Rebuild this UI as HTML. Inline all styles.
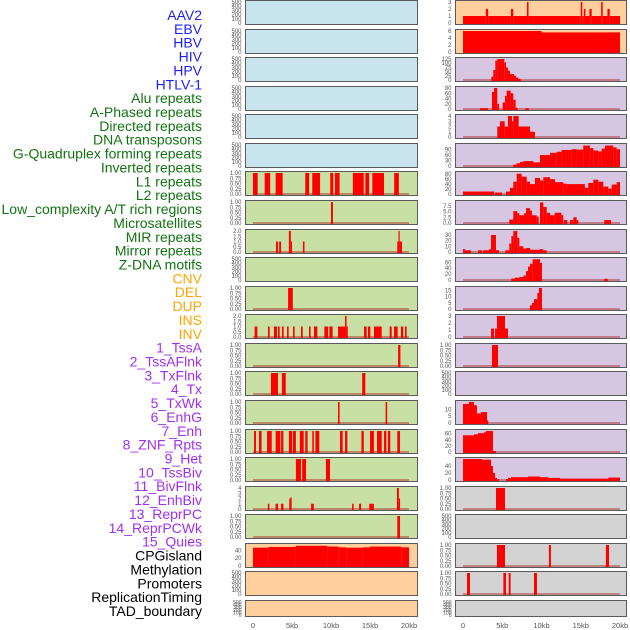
<!DOCTYPE html>
<html><head><meta charset="utf-8"><style>
html,body{margin:0;padding:0;background:#fff;width:630px;height:630px;overflow:hidden}
svg{display:block}
</style></head><body>
<svg id="chart" width="630" height="630" xmlns="http://www.w3.org/2000/svg"></svg>
<script>
// ---- data ----
const trackLabels = ["AAV2","EBV","HBV","HIV","HPV","HTLV-1","Alu repeats","A-Phased repeats","Directed repeats","DNA transposons","G-Quadruplex forming repeats","Inverted repeats","L1 repeats","L2 repeats","Low_complexity A/T rich regions","Microsatellites","MIR repeats","Mirror repeats","Z-DNA motifs","CNV","DEL","DUP","INS","INV","1_TssA","2_TssAFlnk","3_TxFlnk","4_Tx","5_TxWk","6_EnhG","7_Enh","8_ZNF_Rpts","9_Het","10_TssBiv","11_BivFlnk","12_EnhBiv","13_ReprPC","14_ReprPCWk","15_Quies","CPGisland","Methylation","Promoters","ReplicationTiming","TAD_boundary"];
const labelColors = ["#1f1ff5","#1f1ff5","#1f1ff5","#1f1ff5","#1f1ff5","#1f1ff5","#137313","#137313","#137313","#137313","#137313","#137313","#137313","#137313","#137313","#137313","#137313","#137313","#137313","#ffa500","#ffa500","#ffa500","#ffa500","#ffa500","#a030f0","#a030f0","#a030f0","#a030f0","#a030f0","#a030f0","#a030f0","#a030f0","#a030f0","#a030f0","#a030f0","#a030f0","#a030f0","#a030f0","#a030f0","#000","#000","#000","#000","#000"];
const xTicks = [0,5,10,15,20];
const xTickLabels = ["0","5kb","10kb","15kb","20kb"];
const emptyTicks = [0,100,200,300,400,500];
const unitTicks = [0,0.25,0.5,0.75,1];

// left column segments [startKb, endKb, value]
const L6 = [[0,0.6,1],[1.5,2.2,1],[2.9,3.8,1],[6.7,7.2,1],[7.6,8.6,1],[9.9,10.3,1],[10.5,11.1,1],[12.8,14.2,1],[14.4,14.9,1],[15.3,16.8,1],[18.1,18.7,1]];
const L7 = [[10.0,10.25,1]];
const L8 = [[2.95,3.2,1],[3.35,3.6,1],[4.6,4.85,2],[4.85,5.0,1],[6.4,6.6,1],[18.5,18.65,1],[18.65,18.8,2],[18.8,19.1,1]];
const L10 = [[4.5,5.1,1]];
const L11 = [[0.21,0.56,1],[1.92,2.14,1],[2.69,3.08,1],[3.21,3.42,1],[3.72,3.93,1],[4.36,4.57,1],[5.13,5.34,1],[6.15,6.37,1],[7.18,7.39,1],[7.82,8.25,1],[9.15,9.62,1],[9.79,10.21,1],[10.9,11.8,1],[11.8,12.0,2],[12.0,12.14,1],[14.23,14.57,1],[14.74,15.04,1],[15.51,16.5,1],[17.52,17.78,1],[18.08,18.55,1],[18.97,19.27,1],[19.49,19.7,1]];
const L12 = [[18.6,18.9,1]];
const L13 = [[2.3,3.2,1],[3.7,4.2,1],[14.0,14.4,1]];
const L14 = [[10.9,11.1,1],[17.0,17.2,1]];
const L15 = [[0.13,0.38,1],[0.77,1.1,1],[1.8,2.4,1],[2.9,3.5,1],[3.6,3.9,1],[4.6,5.0,1],[5.1,5.5,1],[6.0,6.5,1],[6.7,7.0,1],[7.6,7.8,1],[8.0,8.5,1],[11.15,11.5,1],[11.8,12.1,1],[13.9,14.2,1],[15.0,15.5,1],[15.9,16.5,1],[16.8,17.1,1],[17.3,17.6,1],[18.5,18.85,1]];
const L16 = [[5.5,6.15,1],[6.3,6.8,1],[9.35,9.87,1]];
const L17 = [[1.9,2.1,1],[2.9,3.2,1],[3.6,3.9,1],[4.65,4.8,2],[4.8,4.95,2.2],[7.45,7.8,1],[12.7,12.9,1],[13.6,13.85,1],[14.9,15.2,1],[15.2,15.5,1],[18.45,18.7,4],[18.7,18.85,2]];
const L18 = [[18.5,18.85,1]];
const L19 = [[0,2,47],[2,5.5,49],[5.5,9.5,52],[9.5,11,50],[11,12,48],[12,14,47],[14,15,48],[15,19,50],[19,20,48]];

// right column
const R0 = [[0,2.9,1],[2.9,3.2,2],[3.2,6.1,1],[6.1,6.4,2],[6.4,8.15,1],[8.15,8.35,3],[8.35,15.0,1],[15.0,15.2,3],[15.2,15.4,1],[15.4,15.6,2],[15.6,16.1,1],[16.1,16.4,2],[16.4,17.6,1],[17.6,17.8,3],[17.8,18.4,1],[18.4,18.7,2],[18.7,20,1]];
const R1 = [[0,10,6],[10,20,5.6]];
const R2 = [[3.61,3.86,20],[3.86,4.12,60],[4.12,4.37,115],[4.37,5.26,125],[5.26,5.48,105],[5.48,5.73,75],[5.73,5.99,55],[5.99,6.5,35],[6.5,6.75,25],[6.75,7.0,15],[7.0,7.26,8],[7.26,7.39,3]];
const R3 = [[2.17,3.18,3],[3.69,3.95,65],[3.95,4.37,80],[4.37,4.59,20],[5.05,5.35,25],[5.35,5.56,50],[5.56,6.07,70],[6.07,6.41,60],[6.41,6.71,35],[6.71,6.96,5],[7.94,8.37,3]];
const R4 = [[4.37,4.71,2],[4.71,5.31,3],[5.31,5.73,2],[5.73,6.24,4],[6.24,6.41,3],[6.41,7.09,4],[7.09,8.53,2],[8.53,9.17,1]];
const R5 = [[6.41,6.84,8],[6.84,7.26,15],[7.26,7.69,22],[7.69,8.96,27],[8.96,9.81,20],[9.81,11.08,60],[11.08,11.93,72],[11.93,12.56,78],[12.56,13.84,88],[13.84,14.47,92],[14.47,15.32,90],[15.32,16.17,112],[16.17,16.6,98],[16.6,17.23,85],[17.23,17.66,80],[17.66,18.09,95],[18.09,19.15,112],[19.15,19.57,102],[19.57,20,92]];
const R6 = [[0,3.95,10],[4.08,4.97,6],[5.48,5.99,10],[5.99,6.41,25],[6.41,6.84,50],[6.84,7.47,82],[7.47,8.11,70],[8.11,8.53,50],[8.53,9.17,40],[9.17,9.81,65],[9.81,10.23,55],[10.23,11.08,68],[11.08,11.72,60],[11.72,12.78,48],[12.78,13.2,42],[13.2,15.53,40],[15.53,15.96,25],[15.96,16.6,45],[16.6,17.23,58],[17.23,17.87,50],[17.87,18.51,30],[18.51,18.94,22],[18.94,19.57,38],[19.57,20,48]];
const R7 = [[5.9,6.41,1.5],[6.41,6.92,5.2],[6.92,7.18,4.3],[7.18,7.77,3.4],[7.77,8.03,4.3],[8.03,8.53,6.5],[8.53,8.79,5.4],[8.79,9.38,3.4],[9.38,9.64,2.8],[9.81,10.23,9],[10.23,10.66,7],[10.66,11.08,4.5],[11.08,11.68,3.4],[11.68,12.53,4.5],[12.53,12.78,3.4],[12.87,13.29,1.3],[13.63,14.05,1.3],[14.05,14.47,2.5],[14.47,14.69,1.3],[18.0,18.85,1.3]];
const R8 = [[0,0.25,5],[0.25,1.02,3],[1.91,2.42,3],[2.55,3.31,3],[3.31,3.57,5],[3.57,4.2,30],[4.2,4.59,3],[5.39,5.9,3],[5.9,6.16,15],[6.16,6.41,28],[6.41,6.92,37],[6.92,7.18,25],[7.18,7.69,10],[7.69,8.03,6],[8.03,8.53,7],[8.53,9.81,4],[9.81,10.23,5],[10.23,10.66,3]];
const R9 = [[6.16,6.62,5],[6.62,7.18,8],[7.18,7.69,10],[7.69,8.03,15],[8.03,8.28,30],[8.28,8.53,45],[8.53,8.87,55],[8.87,9.81,70],[9.81,10.06,58],[18.0,18.43,4]];
const R10 = [[8.53,8.79,3],[8.79,9.04,5],[9.04,9.47,8],[9.47,9.68,13],[9.68,10.06,17]];
const R11 = [[3.57,3.95,1.2],[4.08,4.33,1.2],[4.33,5.35,3],[5.35,5.73,1.2]];
const R12 = [[3.69,4.46,1]];
const R14 = [[0,0.76,14],[0.76,1.4,15.4],[1.4,1.78,13],[1.78,2.29,7],[2.29,3.06,8],[3.06,3.18,2]];
const R15 = [[0,1.4,55],[1.4,1.91,58],[1.91,2.68,62],[2.68,2.93,65],[2.93,3.82,69],[3.82,4.2,3]];
const R16 = [[0,2.42,60],[2.42,3.57,58],[3.57,3.82,40],[3.82,4.08,20],[4.08,4.33,6],[4.33,4.59,2],[5.48,5.73,3],[5.73,6.11,6],[6.11,8.28,8],[8.28,9.81,10],[9.81,10.87,8],[10.87,12.36,6],[12.36,18.51,4],[18.51,20,7]];
const R17 = [[4.2,5.35,1]];
const R19 = [[4.33,5.35,1],[10.94,11.2,1],[18.2,18.6,1]];
const R20 = [[0.51,0.89,1],[5.14,5.48,1],[5.82,6.07,1],[9.04,9.42,1]];

const BLUE="#c8e4ec", GREEN="#c8e0a4", ORANGE="#ffcf9e", PURPLE="#d6c6e2", GRAY="#d3d3d3";
// [segments, ticks, ymax, bg]
const leftPanels = [
 [null,emptyTicks,500,BLUE],[null,emptyTicks,500,BLUE],[null,emptyTicks,500,BLUE],[null,emptyTicks,500,BLUE],[null,emptyTicks,500,BLUE],[null,emptyTicks,500,BLUE],
 [L6,unitTicks,1,GREEN],[L7,unitTicks,1,GREEN],[L8,[0,0.5,1,1.5,2],2,GREEN],[null,emptyTicks,500,GREEN],[L10,unitTicks,1,GREEN],[L11,[0,0.5,1,1.5,2],2,GREEN],
 [L12,unitTicks,1,GREEN],[L13,unitTicks,1,GREEN],[L14,unitTicks,1,GREEN],[L15,unitTicks,1,GREEN],[L16,unitTicks,1,GREEN],[L17,[0,1,2,3,4],4,GREEN],[L18,unitTicks,1,GREEN],
 [L19,[0,20,40],54,ORANGE],[null,emptyTicks,500,ORANGE],[null,emptyTicks,500,ORANGE]
];
const rightPanels = [
 [R0,[0,1,2,3],3,ORANGE],[R1,[0,2,4,6],6,ORANGE],[R2,[0,25,50,75,100,125],125,PURPLE],[R3,[0,20,40,60,80],80,PURPLE],[R4,[0,1,2,3,4],4,PURPLE],
 [R5,[0,30,60,90],115,PURPLE],[R6,[0,20,40,60,80],85,PURPLE],[R7,[0,2.5,5,7.5],9.2,PURPLE],[R8,[0,10,20,30],37,PURPLE],[R9,[0,20,40,60],71,PURPLE],
 [R10,[0,5,10,15],17,PURPLE],[R11,[0,1,2,3],3,PURPLE],[R12,unitTicks,1,PURPLE],[null,emptyTicks,500,PURPLE],[R14,[0,5,10],15.4,PURPLE],
 [R15,[0,20,40,60],69,PURPLE],[R16,[0,20,40],60,PURPLE],[R17,unitTicks,1,GRAY],[null,emptyTicks,500,GRAY],[R19,unitTicks,1,GRAY],[R20,unitTicks,1,GRAY],[null,emptyTicks,500,GRAY]
];

// ---- drawing ----
const NS="http://www.w3.org/2000/svg";
const svg=document.getElementById('chart');
function mk(tag,attrs,parent){const e=document.createElementNS(NS,tag);for(const k in attrs)e.setAttribute(k,attrs[k]);(parent||svg).appendChild(e);return e;}

trackLabels.forEach((t,i)=>{
  const el=mk('text',{x:202,y:15+i*13.86+5,'text-anchor':'end','font-family':'Liberation Sans, sans-serif','font-size':14,fill:labelColors[i]});
  el.textContent=t;
  
  
});

function fmt(v,ticks){
  const hasFrac=ticks.some(x=>x%1!==0);
  if(ticks===unitTicks) return v.toFixed(2);
  if(hasFrac) return v.toFixed(1);
  return String(v);
}

function drawCol(panels,px0,pw,x0,kbScale,side){
  panels.forEach((p,i)=>{
    const [segs,ticks,ymax,bg]=p;
    const top=Math.round(i*28.57);
    const h=(i===21)?17:25;
    const g=mk('g',{});
    
    
    mk('rect',{x:px0,y:top+0.5,width:pw,height:h-1,fill:bg,stroke:'#5a5a5a','stroke-width':1},g);
    const yb=top+h-2, yt=top+2;
    const ys=v=>yb-(v/ymax)*(yb-yt);
    const xs=kb=>x0+kb*kbScale;
    if(segs){
      mk('line',{x1:xs(0),x2:xs(20),y1:yb,y2:yb,stroke:'rgba(170,30,30,0.45)','stroke-width':2},g);
      segs.forEach(s=>{
        const r=mk('rect',{x:xs(s[0]),y:ys(s[2]),width:Math.max(1.2,xs(s[1])-xs(s[0])),height:yb-ys(s[2])+1,fill:'#ff0000'},g);
        
        
      });
    }
    const fs=(i===21)?5:6;
    ticks.forEach(v=>{
      const t=mk('text',{x:px0-4,y:ys(v)+2,'text-anchor':'end','font-family':'Liberation Sans, sans-serif','font-size':fs,fill:'#555'},g);
      t.textContent=fmt(v,ticks);
      
      
    });
  });
  xTicks.forEach((v,j)=>{
    const t=mk('text',{x:x0+v*kbScale,y:628,'text-anchor':'middle','font-family':'Liberation Sans, sans-serif','font-size':7.5,fill:'#555'});
    t.textContent=xTickLabels[j];
    
    
  });
}
drawCol(leftPanels,245.5,172,253,7.8,'left');
drawCol(rightPanels,455.5,171,463,7.85,'right');
</script>
</body></html>
